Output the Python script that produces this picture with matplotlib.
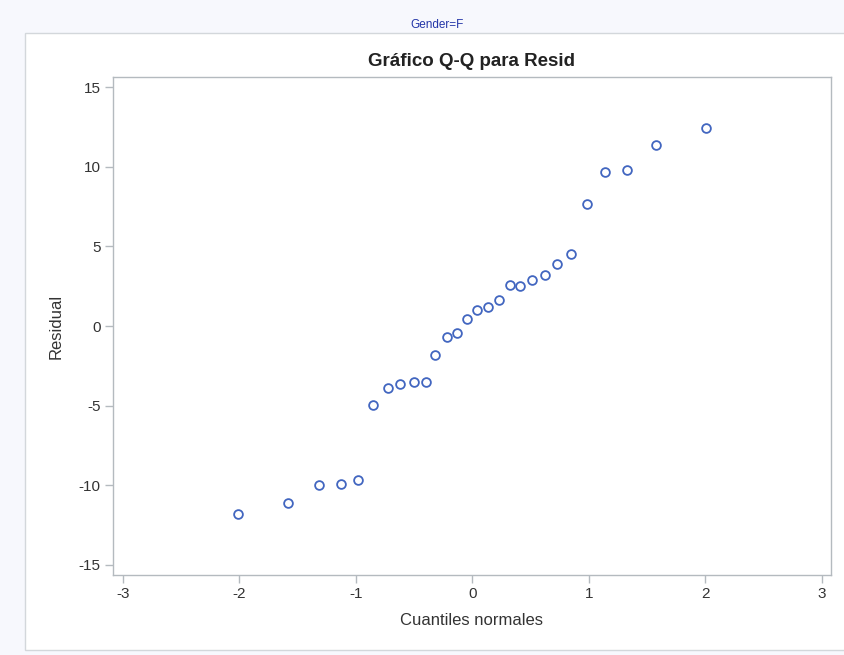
import matplotlib
matplotlib.use("Agg")
import matplotlib.pyplot as plt
from matplotlib.patches import Rectangle

plt.rcParams['font.family'] = ['Liberation Sans', 'DejaVu Sans']

# Quantiles normales (x) y residuales (y)
quantiles = [-2.01, -1.58, -1.32, -1.13, -0.98, -0.85, -0.725, -0.62, -0.50, -0.40,
             -0.32, -0.22, -0.13, -0.045, 0.04, 0.135, 0.225, 0.32, 0.41, 0.51,
             0.62, 0.73, 0.85, 0.985, 1.14, 1.33, 1.58, 2.01]
residuals = [-11.77, -11.12, -9.99, -9.89, -9.68, -4.97, -3.92, -3.61, -3.50, -3.50,
             -1.83, -0.68, -0.45, 0.45, 0.99, 1.18, 1.66, 2.56, 2.54, 2.88,
             3.21, 3.92, 4.49, 7.65, 9.68, 9.82, 11.37, 12.42]
x_ticks = [-3, -2, -1, 0, 1, 2, 3]
y_ticks = [-15, -10, -5, 0, 5, 10, 15]

grey = '#b4babf'
text_col = '#333333'

fig = plt.figure(figsize=(8.45, 6.55), dpi=100)
fig.patch.set_facecolor('#f7f8fd')

# white panel with grey border (behind the axes)
panel = Rectangle((25 / 845, 1 - 650 / 655), 1.0, (650 - 33) / 655,
                  transform=fig.transFigure, facecolor='white',
                  edgecolor='#d3d7db', linewidth=1.0, zorder=-10)
fig.patches.append(panel)

fig.text(437 / 845, 1 - 25 / 655, 'Gender=F', color='#2335a8', fontsize=8.5,
         ha='center', va='center')

ax = fig.add_axes([113 / 845, 1 - 575 / 655, (831 - 113) / 845, (575 - 77) / 655])
ax.set_facecolor('white')

ax.plot(quantiles, residuals, 'o', markersize=6.3, markerfacecolor='none',
        markeredgecolor='#4266c0', markeredgewidth=1.3)

ax.set_xlim(-3.086, 3.08)
ax.set_ylim(-15.63, 15.63)
ax.set_xticks(x_ticks)
ax.set_yticks(y_ticks)
ax.set_xticklabels([str(t) for t in x_ticks])
ax.set_yticklabels([str(t) for t in y_ticks])

for s in ax.spines.values():
    s.set_color(grey)
    s.set_linewidth(1.0)
ax.tick_params(direction='out', length=6, width=1, color=grey,
               labelcolor=text_col, labelsize=11, pad=3)

ax.set_title('Gráfico Q-Q para Resid', fontsize=13.5, fontweight='bold',
             color='#222222', pad=8)
ax.set_xlabel('Cuantiles normales', fontsize=12, color=text_col, labelpad=8)
ax.set_ylabel('Residual', fontsize=12, color=text_col, labelpad=11)

fig.savefig('out.png', dpi=100, facecolor=fig.get_facecolor())
